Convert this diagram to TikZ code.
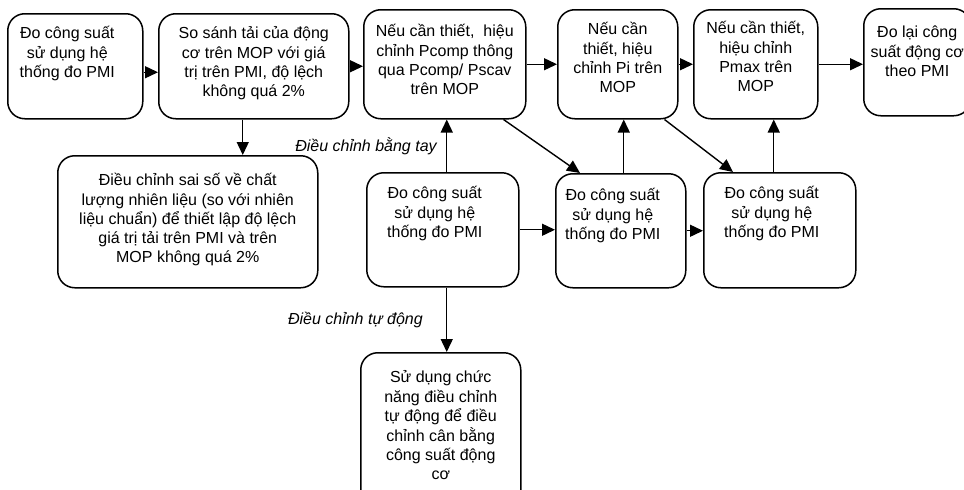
\documentclass[tikz,border=0pt]{standalone}
\usepackage{fontspec}
\setmainfont{Liberation Sans}
\usetikzlibrary{arrows.meta}

\newcommand{\boxlines}[1]{\begin{tabular}[t]{@{}c@{}}#1\end{tabular}}
\newcommand{\pmitext}{\boxlines{Đo công suất\hspace*{16pt}\\ sử dụng hệ\hspace*{16pt}\\ thống đo PMI\hspace*{16pt}}}

\begin{document}
\begin{tikzpicture}[x=1pt, y=-1pt, >={Triangle[length=13pt,width=12pt]},
  box/.style={draw, line width=1.5pt, rounded corners=17pt, anchor=north west,
    inner sep=0pt, font=\fontsize{16}{19.3}\selectfont},
  link/.style={->, line width=1.4pt},
  note/.style={font=\fontsize{16}{19}\selectfont\itshape}]
  \useasboundingbox (0,0) rectangle (964,490);

  % top row
  \node[box, minimum width=135pt, text height=25pt, text depth=80pt] (a) at (7,13) {\pmitext};
  \node[box, minimum width=190pt, text height=25pt, text depth=80pt] (b) at (158,13)
    {\boxlines{So sánh tải của động\\ cơ trên MOP với giá\\ trị trên PMI, độ lệch\\ không quá 2\%}};
  \node[box, minimum width=162pt, text height=27pt, text depth=82pt] (c) at (363,9)
    {\boxlines{Nếu cần thiết,~ hiệu\\ chỉnh Pcomp thông\\ qua Pcomp/ Pscav\\ trên MOP}};
  \node[box, minimum width=120pt, text height=25pt, text depth=84pt] (d) at (557,9)
    {\boxlines{Nếu cần\\ thiết, hiệu\\ chỉnh Pi trên\\ MOP}};
  \node[box, minimum width=124pt, text height=24pt, text depth=85pt] (e) at (693,9)
    {\boxlines{Nếu cần thiết,\\ hiệu chỉnh\\ Pmax trên\\ MOP}};
  \node[box, minimum width=107pt, text height=29pt, text depth=78pt] (f) at (863,8)
    {\boxlines{Đo lại công\\ suất động cơ\\ theo PMI}};

  % lower part
  \node[box, minimum width=260pt, text height=30pt, text depth=102pt] (g) at (57,155)
    {\boxlines{Điều chỉnh sai số về chất\\ lượng nhiên liệu (so với nhiên\\ liệu chuẩn) để thiết lập độ lệch\\ giá trị tải trên PMI và trên\\ MOP không quá 2\%}};
  \node[box, minimum width=152pt, text height=26pt, text depth=88pt] (h) at (366,172) {\pmitext};
  \node[box, minimum width=130pt, text height=27pt, text depth=87pt] (i) at (555,173) {\pmitext};
  \node[box, minimum width=152pt, text height=26pt, text depth=89pt] (j) at (703,172) {\pmitext};
  \node[box, minimum width=160pt, text height=30pt, text depth=140pt] (k) at (360,352)
    {\boxlines{Sử dụng chức\\ năng điều chỉnh\\ tự động để điều\\ chỉnh cân bằng\\ công suất động\\ cơ}};

  \draw[link] ([yshift=-6pt]a.east) -- ([yshift=-6pt]b.west);
  \draw[link] (b.east) -- (b.east -| c.west);
  \draw[link] (c.east) -- (c.east -| d.west);
  \draw[link] (d.east) -- (d.east -| e.west);
  \draw[link] (e.east) -- (e.east -| f.west);
  \draw[link] ([xshift=-11pt]b.south) -- ([xshift=-11pt]b.south |- g.north);

  \draw[link] ([xshift=4pt]h.north) -- ([xshift=4pt]h.north |- c.south)
    node[note, pos=0.5, left=6pt] {Điều chỉnh bằng tay};
  \draw[link] ([xshift=4pt]h.south) -- ([xshift=4pt]h.south |- k.north)
    node[note, pos=0.5, left=20pt] {Điều chỉnh tự động};
  \draw[link] (h.east) -- (h.east -| i.west);
  \draw[link] (i.east) -- (i.east -| j.west);
  \draw[link] ([xshift=3pt]i.north) -- ([xshift=3pt]i.north |- d.south);
  \draw[link] ([xshift=-6pt]j.north) -- ([xshift=-6pt]j.north |- e.south);
  \draw[link] ([xshift=-23pt]c.south east) -- ([xshift=25pt]i.north west);
  \draw[link] ([xshift=-14pt]d.south east) -- ([xshift=30pt]j.north west);
\end{tikzpicture}
\end{document}
